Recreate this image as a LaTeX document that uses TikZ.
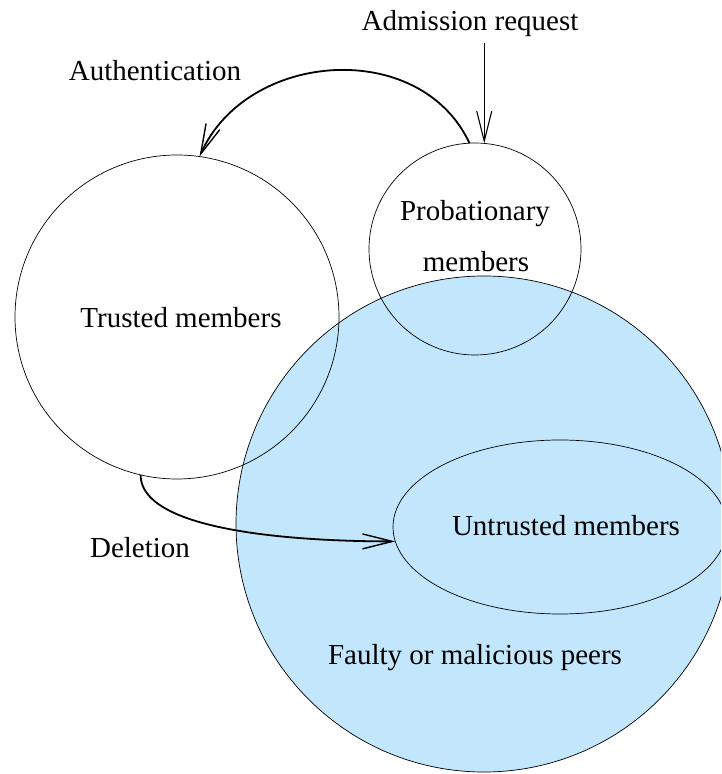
\documentclass[tikz,border=0pt]{standalone}
\usepackage{fontspec}
\setmainfont{Liberation Serif}
\usetikzlibrary{arrows.meta,shapes.geometric}
\definecolor{peerblue}{RGB}{194,230,252}
\tikzset{
  setline/.style={draw=black, line width=0.7pt, inner sep=0pt, outer sep=0pt},
  setcircle/.style={setline, circle, minimum size=#1},
  lbl/.style={anchor=base, inner sep=0pt, font=\fontsize{29}{35}\selectfont},
  thinarrow/.style={line width=1.1pt, -{Straight Barb[length=30pt,width=15pt,line width=1.1pt]}},
  thickarrow/.style={line width=1.8pt, -{Straight Barb[length=30pt,width=15pt,line width=1.4pt]}}
}
\begin{document}
\begin{tikzpicture}[x=1pt,y=1pt]
  \clip (0,0) rectangle (721,774);
  \fill[white] (0,0) rectangle (721,774);

  % the population of faulty or malicious peers
  \node[setcircle=496pt, fill=peerblue] (peers) at (484,250) {};
  % membership sets
  \node[setcircle=324pt] (trusted) at (177,457) {};
  \node[setcircle=212pt] (prob) at (475,525) {};
  \node[setline, ellipse, minimum width=334pt, minimum height=174pt] (untrusted) at (560,247) {};

  % labels
  \node[lbl] (admission) at (470,743) {Admission request};
  \node[lbl] (auth) at (155,693) {Authentication};
  \node[lbl] (probA) at (475,553) {Probationary};
  \node[lbl] (probB) at (476,502) {members};
  \node[lbl] (trustedtxt) at (181,446) {Trusted members};
  \node[lbl] (untrustedtxt) at (566,238) {Untrusted members};
  \node[lbl] (deletion) at (140,216) {Deletion};
  \node[lbl] (peerstxt) at (475,109) {Faulty or malicious peers};

  % transitions
  \coordinate (admin) at (prob.85);
  \draw[thinarrow] (admission.south -| admin) ++(0,-6) -- (admin);
  \draw[thickarrow] (prob.93) to[out=115, in=66, looseness=1.1] (trusted.82);
  \draw[thickarrow] (trusted.257) to[out=-90, in=180, out distance=54pt, in distance=112pt] (untrusted.185);
\end{tikzpicture}
\end{document}
